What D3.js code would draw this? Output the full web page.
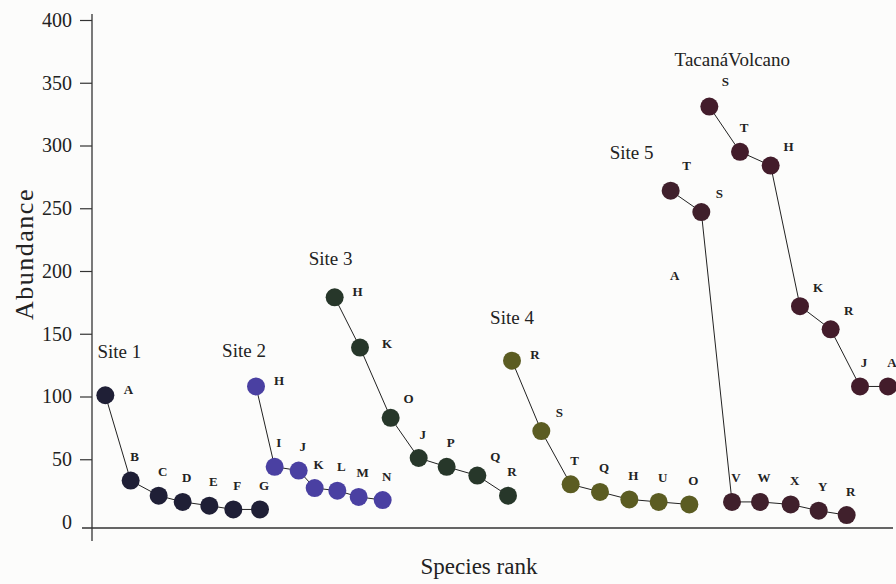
<!DOCTYPE html>
<html>
<head>
<meta charset="utf-8">
<script src="https://cdnjs.cloudflare.com/ajax/libs/d3/7.8.5/d3.min.js"></script>
<style>
body { margin: 0; background: #fcfcfb; }
svg text { font-family: "Liberation Serif", "DejaVu Serif", serif; fill: #222; }
</style>
</head>
<body>
<div id="chart"></div>
<script>
// species letters per site
var site1Species = ["A", "B", "C", "D", "E", "F", "G"];
var site2Species = ["H", "I", "J", "K", "L", "M", "N"];
var site3Species = ["H", "K", "O", "J", "P", "Q", "R"];
var site4Species = ["R", "S", "T", "Q", "H", "U", "O"];
var site5Species = ["T", "S", "V", "W", "X", "Y", "R"];
var tacanaSpecies = ["S", "T", "H", "K", "R", "J", "A"];

// abundance values
var site1Values = [101, 33, 21, 16, 13, 10, 10];
var site2Values = [108, 44, 41, 27, 25, 20, 17.5];
var site3Values = [179, 139, 83, 51, 44, 37, 21];
var site4Values = [128.5, 72.5, 30, 24, 18, 16, 14];
var site5Values = [264, 247, 16, 16, 14, 9, 5.5];
var tacanaValues = [331, 295, 284, 172, 153.5, 108, 108];

// position along the species rank axis
var site1Rank = [0.5, 1.45, 2.5, 3.4, 4.4, 5.3, 6.3];
var site2Rank = [6.15, 6.85, 7.75, 8.35, 9.2, 10.0, 10.9];
var site3Rank = [9.1, 10.05, 11.2, 12.25, 13.3, 14.45, 15.6];
var site4Rank = [15.75, 16.85, 17.95, 19.05, 20.15, 21.25, 22.4];
var site5Rank = [21.7, 22.85, 24.0, 25.05, 26.2, 27.25, 28.3];
var tacanaRank = [23.15, 24.3, 25.45, 26.55, 27.7, 28.8, 29.85];

var siteNames = ["Site 1", "Site 2", "Site 3", "Site 4", "Site 5", "TacanáVolcano"];
var yTicks = [0, 50, 100, 150, 200, 250, 300, 350, 400];

var sites = [
  {name: siteNames[0], species: site1Species, values: site1Values, rank: site1Rank, color: "#1f1f36"},
  {name: siteNames[1], species: site2Species, values: site2Values, rank: site2Rank, color: "#4a40a2"},
  {name: siteNames[2], species: site3Species, values: site3Values, rank: site3Rank, color: "#27372a"},
  {name: siteNames[3], species: site4Species, values: site4Values, rank: site4Rank, color: "#5b5c22"},
  {name: siteNames[4], species: site5Species, values: site5Values, rank: site5Rank, color: "#40202c"},
  {name: siteNames[5], species: tacanaSpecies, values: tacanaValues, rank: tacanaRank, color: "#431c2b"}
];

// where the site names sit, relative to the first dot (px)
var siteLabelOffset = [[14, -44], [-12, -36], [-4, -39], [0, -43], [-39, -38], [23, -47]];
// first letter goes above the dot instead of beside it
var firstLabelAbove = [false, false, false, false, true, true];

//Set up properies
var width = 896;
var height = 584;
var radius = 9;

var x = d3.scaleLinear().domain([0, 30]).range([92, 892]);
var y = d3.scaleLinear().domain([0, 400]).range([522, 20]);

var svg = d3.select("#chart")
            .append("svg")
            .attr("width", width)
            .attr("height", height);

// axes
var yAxis = d3.axisLeft(y).tickValues(yTicks).tickSize(12).tickSizeOuter(0).tickPadding(8);
var gy = svg.append("g")
            .attr("transform", "translate(92,0)")
            .call(yAxis);
gy.select(".domain").remove();
gy.selectAll(".tick line").attr("stroke", "#333").attr("stroke-width", 1.2)
  .filter(function(d) { return d === 0; }).remove();
gy.selectAll(".tick text").style("font-size", "20px").attr("fill", "#222");

svg.append("line")
   .attr("x1", 92).attr("x2", 92)
   .attr("y1", 14).attr("y2", 541)
   .attr("stroke", "#333").attr("stroke-width", 1.3);

svg.append("line")
   .attr("x1", 82).attr("x2", 893)
   .attr("y1", 528).attr("y2", 528)
   .attr("stroke", "#333").attr("stroke-width", 1.3);

svg.append("text")
   .attr("transform", "translate(33,254) rotate(-90)")
   .attr("text-anchor", "middle")
   .style("font-size", "26px")
   .style("letter-spacing", "1.5px")
   .text("Abundance");

svg.append("text")
   .attr("x", 479).attr("y", 574)
   .attr("text-anchor", "middle")
   .style("font-size", "23px")
   .text("Species rank");

var line = d3.line()
             .x(function(d) { return x(d.r); })
             .y(function(d) { return y(d.v); });

// pick the nudge of a species letter from the slope around its dot
function labelNudge(pts, i, above) {
    if (i === 0) return above ? [16, -25] : [23, -6];
    var d = pts[i], prev = pts[i - 1], next = pts[i + 1];
    var dropIn = y(d.v) - y(prev.v);
    var dropOut = next ? y(next.v) - y(d.v) : 0;
    if (dropIn > 45 && dropOut > 60) return [27, -4];
    if (dropOut > 20) return [18, -19];
    return [4, -24];
}

sites.forEach(function(site, si) {
    var pts = site.values.map(function(v, i) {
        return {v: v, r: site.rank[i], s: site.species[i]};
    });

    var g = svg.append("g").attr("class", "site");

    g.append("path")
     .attr("d", line(pts))
     .attr("fill", "none")
     .attr("stroke", "#222")
     .attr("stroke-width", 1);

    g.selectAll("circle")
     .data(pts)
     .enter()
     .append("circle")
     .attr("cx", function(d) { return x(d.r); })
     .attr("cy", function(d) { return y(d.v); })
     .attr("r", radius)
     .attr("fill", site.color);

    g.selectAll(".sp")
     .data(pts)
     .enter()
     .append("text")
     .attr("class", "sp")
     .attr("text-anchor", "middle")
     .attr("dy", ".35em")
     .style("font-size", "13px")
     .style("font-weight", "bold")
     .attr("x", function(d, i) { return x(d.r) + labelNudge(pts, i, firstLabelAbove[si])[0]; })
     .attr("y", function(d, i) { return y(d.v) + labelNudge(pts, i, firstLabelAbove[si])[1]; })
     .text(function(d) { return d.s; });

    g.append("text")
     .attr("x", x(pts[0].r) + siteLabelOffset[si][0])
     .attr("y", y(pts[0].v) + siteLabelOffset[si][1])
     .attr("text-anchor", "middle")
     .attr("dy", ".35em")
     .style("font-size", "19px")
     .text(site.name);
});

// stray label from site 5
svg.append("text")
   .attr("x", x(site5Rank[0]) + 4)
   .attr("y", y(site5Values[1]) + 63)
   .attr("text-anchor", "middle")
   .attr("dy", ".35em")
   .style("font-size", "13px")
   .style("font-weight", "bold")
   .text("A");
</script>
</body>
</html>
